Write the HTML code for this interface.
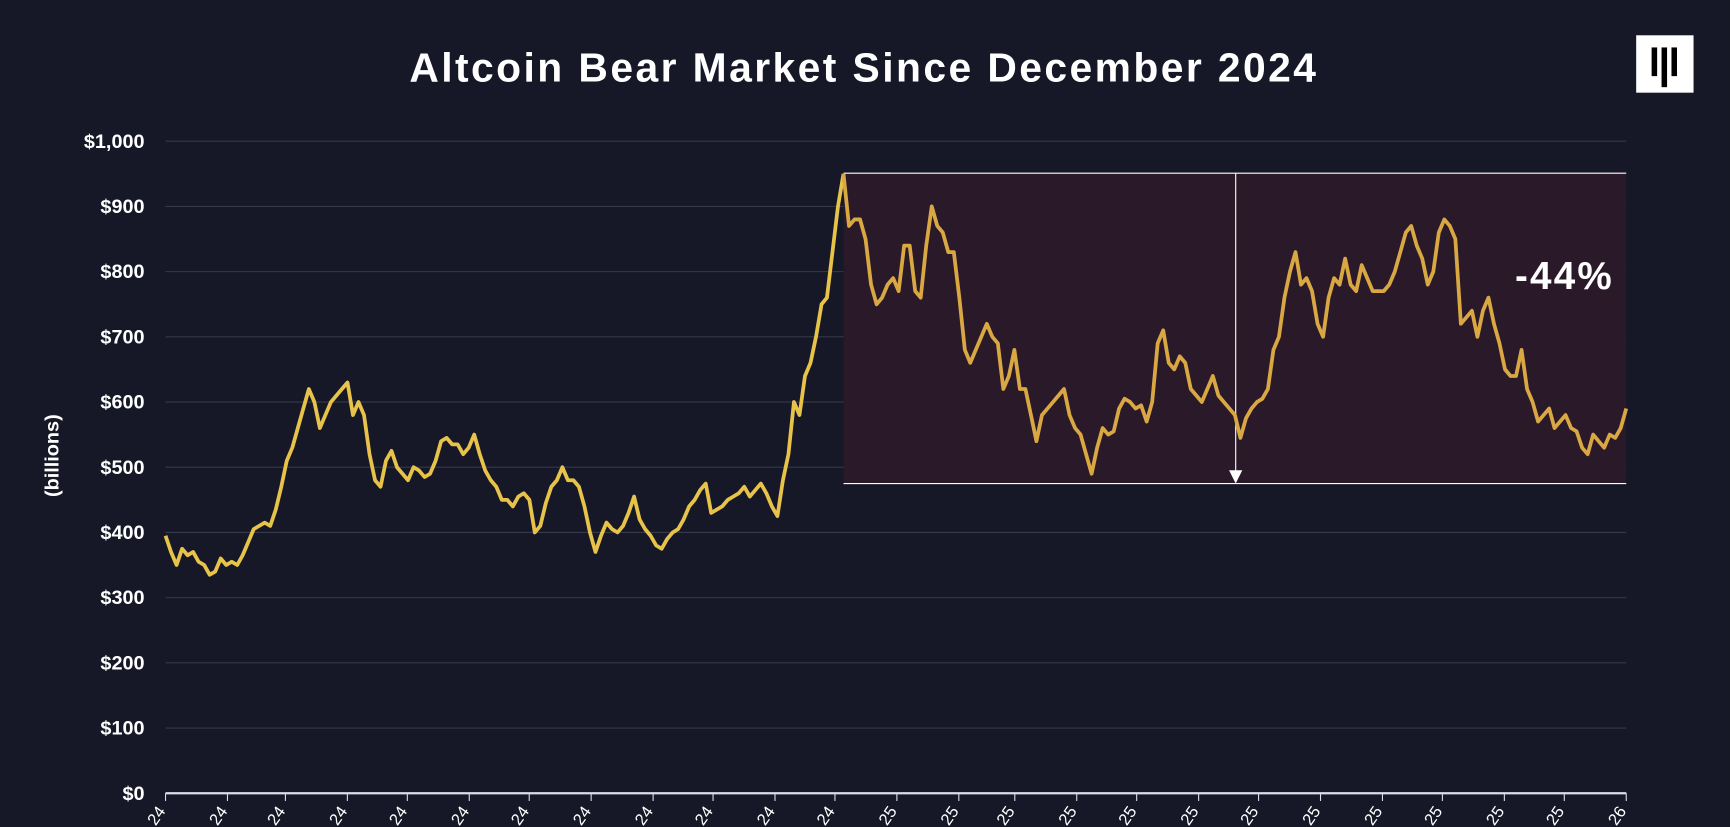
<!DOCTYPE html>
<html><head><meta charset="utf-8"><style>
html,body{margin:0;padding:0;background:#161827;width:1730px;height:827px;overflow:hidden;}
svg{display:block;font-family:"Liberation Sans",sans-serif;overflow:hidden;}
</style></head><body>
<svg id="chart" width="1730" height="827" viewBox="0 0 1568 749.6" xmlns="http://www.w3.org/2000/svg">
<rect x="0" y="0" width="1568" height="749.6" fill="#161827"/>
<text x="783" y="74" text-anchor="middle" fill="#ffffff" font-size="37" font-weight="bold" letter-spacing="2.2">Altcoin Bear Market Since December 2024</text>
<g>
<rect x="1483" y="32" width="52" height="52" fill="#ffffff"/>
<rect x="1497" y="43" width="5" height="26" fill="#000"/>
<rect x="1506" y="43" width="5" height="36" fill="#000"/>
<rect x="1515" y="43" width="5" height="26" fill="#000"/>
</g>
<text transform="translate(53,413) rotate(-90)" text-anchor="middle" fill="#ffffff" font-size="18" font-weight="bold">(billions)</text>
<g id="grid"></g>
<g id="box"></g>
<g id="series"></g>
<g id="xaxis"></g>
</svg>
<script>
const yTicks=[0,100,200,300,400,500,600,700,800,900,1000];
const yTickLabels=["$0","$100","$200","$300","$400","$500","$600","$700","$800","$900","$1,000"];
const xMonths=["24","24","24","24","24","24","24","24","24","24","24","24","25","25","25","25","25","25","25","25","25","25","25","25","26"];
const monthDays=[0,31,60,91,121,152,182,213,244,274,305,335,366,397,425,456,486,517,547,578,609,639,670,700,731];
const values=[395,370,350,375,365,370,355,350,335,340,360,350,355,350,365,385,405,410,415,410,435,470,510,530,560,590,620,600,560,580,600,610,620,630,580,600,580,520,480,470,510,525,500,490,480,500,495,485,490,510,540,545,535,535,520,530,550,520,495,480,470,450,450,440,455,460,450,400,410,445,470,480,500,480,480,470,440,400,370,395,415,405,400,410,430,455,420,405,395,380,375,390,400,405,420,440,450,465,475,430,435,440,450,455,460,470,455,465,475,460,440,425,480,520,600,580,640,660,700,750,760,830,900,950,870,880,880,850,780,750,760,780,790,770,840,840,770,760,840,900,870,860,830,830,760,680,660,680,700,720,700,690,620,640,680,620,620,580,540,580,590,600,610,620,580,560,550,520,490,530,560,550,555,590,605,600,590,595,570,600,690,710,660,650,670,660,620,610,600,620,640,610,600,590,580,545,575,590,600,605,620,680,700,760,800,830,780,790,770,720,700,760,790,780,820,780,770,810,790,770,770,770,780,800,830,860,870,840,820,780,800,860,880,870,850,720,730,740,700,740,760,720,690,650,640,640,680,620,600,570,580,590,560,570,580,560,555,530,520,550,540,530,550,545,560,590];
const boxTop=951, boxBottom=475;
const NS="http://www.w3.org/2000/svg";
const X0=150,X1=1474,Y0=719,Y1=128;
const yS=v=>Y0-(v/1000)*(Y0-Y1);
const xDay=d=>X0+(d/731)*(X1-X0);
const xIdx=i=>X0+(i/(values.length-1))*(X1-X0);
function mk(tag,attrs,parent){const e=document.createElementNS(NS,tag);for(const k in attrs)e.setAttribute(k,attrs[k]);parent.appendChild(e);return e;}
const grid=document.getElementById('grid');
yTicks.forEach((t,i)=>{
 if(t>0){const l=mk('line',{x1:X0,x2:X1,y1:yS(t),y2:yS(t),stroke:'#363949','stroke-width':1},grid);
 
 }
 const tx=mk('text',{x:131,y:yS(t)+6,'text-anchor':'end',fill:'#fff','font-size':18,'font-weight':'bold'},grid);
 tx.textContent=yTickLabels[i];
 
 
});
const box=document.getElementById('box');
const peakIdx=values.indexOf(Math.max(...values));
const bx=xIdx(peakIdx);
const r=mk('rect',{x:bx,y:yS(boxTop),width:X1-bx,height:yS(boxBottom)-yS(boxTop),fill:'#2a1a29'},box);


const lt=mk('line',{x1:bx,x2:X1,y1:yS(boxTop),y2:yS(boxTop),stroke:'#fff','stroke-width':1},box);


const lb=mk('line',{x1:bx,x2:X1,y1:yS(boxBottom),y2:yS(boxBottom),stroke:'#fff','stroke-width':1},box);


const ax=1120;
const av=mk('line',{x1:ax,x2:ax,y1:yS(boxTop),y2:yS(boxBottom)-8,stroke:'#fff','stroke-width':1},box);


const ah=mk('polygon',{points:`${ax-6},${yS(boxBottom)-12} ${ax+6},${yS(boxBottom)-12} ${ax},${yS(boxBottom)}`,fill:'#fff'},box);


const pct=mk('text',{x:1418,y:262,'text-anchor':'middle',fill:'#fff','font-size':35,'font-weight':'bold','letter-spacing':'2'},box);
pct.textContent='-44%';


const ser=document.getElementById('series');
let p1='',p2='';
values.forEach((v,i)=>{const pt=xIdx(i).toFixed(1)+','+yS(v).toFixed(1);
 if(i<=peakIdx)p1+=(p1?' L':'M')+pt;
 if(i>=peakIdx)p2+=(p2?' L':'M')+pt;});
const s1=mk('path',{d:p1,fill:'none',stroke:'#e8c34a','stroke-width':3.4,'stroke-linejoin':'round'},ser);


const s2=mk('path',{d:p2,fill:'none',stroke:'#d9a843','stroke-width':3.4,'stroke-linejoin':'round'},ser);


const xa=document.getElementById('xaxis');
const base=mk('line',{x1:X0,x2:X1,y1:Y0,y2:Y0,stroke:'#dcdcea','stroke-width':2},xa);


xMonths.forEach((m,i)=>{
 const x=xDay(monthDays[i]);
 const tk=mk('line',{x1:x,x2:x,y1:Y0,y2:Y0+7,stroke:'#dcdcea','stroke-width':1},xa);
 
 
 const t=mk('text',{transform:`translate(${x-9},${749}) rotate(-55)`,'text-anchor':'start',fill:'#fff','font-size':15},xa);
 t.textContent=m;
 
 
});
</script>
</body></html>
